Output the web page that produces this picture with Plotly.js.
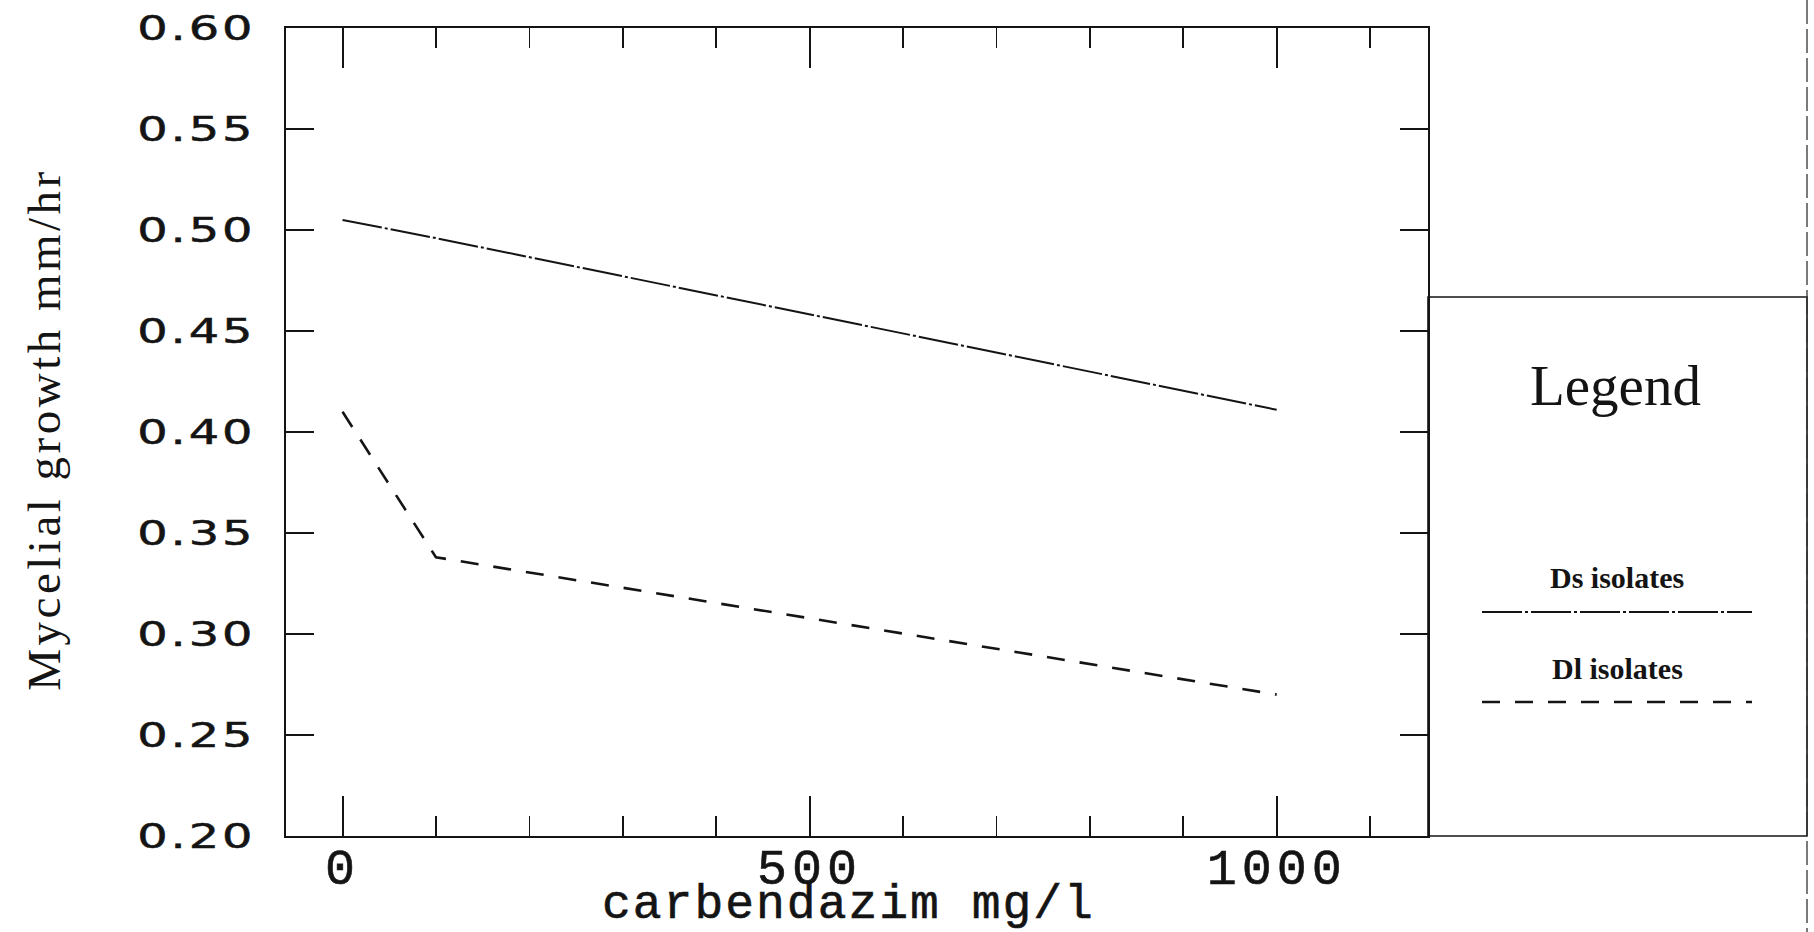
<!DOCTYPE html>
<html>
<head>
<meta charset="utf-8">
<script src="https://cdn.plot.ly/plotly-3.0.1.min.js"></script>
<style>
html, body { margin: 0; padding: 0; background: #ffffff; }
#chart { width: 1814px; height: 932px; }
.ytick text { letter-spacing: 2px; stroke: #141414; stroke-width: 0.5px; }
.xtick text { letter-spacing: 5px; stroke: #141414; stroke-width: 0.6px; }
.annotation[data-index="0"] text { letter-spacing: 2px; stroke: #141414; stroke-width: 0.6px; }
.annotation[data-index="1"] text { letter-spacing: 3.5px; }
</style>
</head>
<body>
<div id="chart"></div>
<script>
// ---- data ----
const concentrations = [0, 100, 1000];
const dsGrowth = [0.505, 0.496, 0.411];
const dlGrowth = [0.410, 0.338, 0.270];
const seriesNames = ['Ds isolates', 'Dl isolates'];

const xTickVals = [0, 500, 1000];
const xTickText = ['0', '500', '1000'];
const xMinorTicks = [100, 200, 300, 400, 600, 700, 800, 900, 1100];
const yTickVals = [0.20, 0.25, 0.30, 0.35, 0.40, 0.45, 0.50, 0.55, 0.60];
const yTickText = ['0.20', '0.25', '0.30', '0.35', '0.40', '0.45', '0.50', '0.55', '0.60'];

const xTitle = 'carbendazim mg/l';
const yTitle = 'Mycelial growth mm/hr';
const legendTitle = 'Legend';

// ---- layout geometry ----
const W = 1814, H = 932;
const M = { l: 286, r: 386, t: 28, b: 96 };
const pw = W - M.l - M.r, ph = H - M.t - M.b;
const px = x => (x - M.l) / pw;
const py = y => (M.t + ph - y) / ph;

const ink = '#141414';
const dsDash = '40px,3px,3px,3px';
const dlDash = '18px,15px';

const traces = [
  {
    x: concentrations, y: dsGrowth, name: seriesNames[0], type: 'scatter', mode: 'lines',
    line: { color: ink, width: 2, dash: dsDash }, showlegend: false
  },
  {
    x: concentrations, y: dlGrowth, name: seriesNames[1], type: 'scatter', mode: 'lines',
    line: { color: ink, width: 2.6, dash: dlDash }, showlegend: false
  }
];

const layout = {
  width: W, height: H,
  margin: M,
  paper_bgcolor: '#ffffff', plot_bgcolor: '#ffffff',
  showlegend: false,
  xaxis: {
    range: [-60.5, 1162],
    tickmode: 'array', tickvals: xTickVals, ticktext: xTickText,
    ticks: 'inside', ticklen: 40, tickwidth: 2, tickcolor: ink,
    minor: { tickmode: 'array', tickvals: xMinorTicks, ticks: 'inside', ticklen: 20, tickwidth: 1.6, tickcolor: ink, showgrid: false },
    showline: true, linewidth: 2, linecolor: ink, mirror: 'ticks',
    showgrid: false, zeroline: false,
    tickfont: { family: 'Liberation Mono, Courier New, monospace', size: 50, color: ink },
    ticklabelstandoff: -14
  },
  yaxis: {
    range: [0.2, 0.6],
    tickmode: 'array', tickvals: yTickVals, ticktext: yTickText,
    ticks: 'inside', ticklen: 28, tickwidth: 2, tickcolor: ink,
    showline: true, linewidth: 2, linecolor: ink, mirror: 'ticks',
    showgrid: false, zeroline: false,
    tickfont: { family: 'DejaVu Sans, sans-serif', size: 33, color: ink },
    ticklabelstandoff: 22
  },
  shapes: [
    { type: 'rect', xref: 'paper', yref: 'paper', x0: px(1428), x1: px(1807), y0: py(836), y1: py(297),
      line: { color: ink, width: 1.6 }, fillcolor: 'rgba(0,0,0,0)' },
    { type: 'line', xref: 'paper', yref: 'paper', x0: px(1807), x1: px(1807), y0: py(0), y1: py(932),
      line: { color: '#333333', width: 1.3, dash: '24px,5px' } },
    { type: 'line', xref: 'paper', yref: 'paper', x0: px(1482), x1: px(1752), y0: py(612), y1: py(612),
      line: { color: ink, width: 2, dash: dsDash } },
    { type: 'line', xref: 'paper', yref: 'paper', x0: px(1482), x1: px(1752), y0: py(702), y1: py(702),
      line: { color: ink, width: 2.6, dash: dlDash } }
  ],
  annotations: [
    { text: xTitle, xref: 'paper', yref: 'paper', x: px(848), y: py(905), xanchor: 'center', yanchor: 'middle',
      showarrow: false, font: { family: 'Liberation Mono, Courier New, monospace', size: 48, color: ink } },
    { text: yTitle, xref: 'paper', yref: 'paper', x: px(44), y: py(430), xanchor: 'center', yanchor: 'middle',
      textangle: -90, showarrow: false, font: { family: 'Liberation Serif, serif', size: 47, color: ink } },
    { text: legendTitle, xref: 'paper', yref: 'paper', x: px(1615), y: py(386), xanchor: 'center', yanchor: 'middle',
      showarrow: false, font: { family: 'Liberation Serif, serif', size: 57, color: ink } },
    { text: '<b>' + seriesNames[0] + '</b>', xref: 'paper', yref: 'paper', x: px(1617), y: py(577), xanchor: 'center', yanchor: 'middle',
      showarrow: false, font: { family: 'Liberation Serif, serif', size: 30, color: ink } },
    { text: '<b>' + seriesNames[1] + '</b>', xref: 'paper', yref: 'paper', x: px(1617), y: py(668), xanchor: 'center', yanchor: 'middle',
      showarrow: false, font: { family: 'Liberation Serif, serif', size: 30, color: ink } }
  ]
};

Plotly.newPlot('chart', traces, layout, { displayModeBar: false, staticPlot: true }).then(function (gd) {
  // widen the y tick label glyphs (the reference uses an extended plotter font), keeping their right edge fixed
  gd.querySelectorAll('.ytick text').forEach(function (t) {
    const ax = parseFloat(t.getAttribute('x')) || 0;
    const tr = t.getAttribute('transform') || '';
    t.setAttribute('transform', tr + ' translate(' + ax + ',0) scale(1.45,1) translate(' + (-ax) + ',0)');
  });
});
</script>
</body>
</html>
